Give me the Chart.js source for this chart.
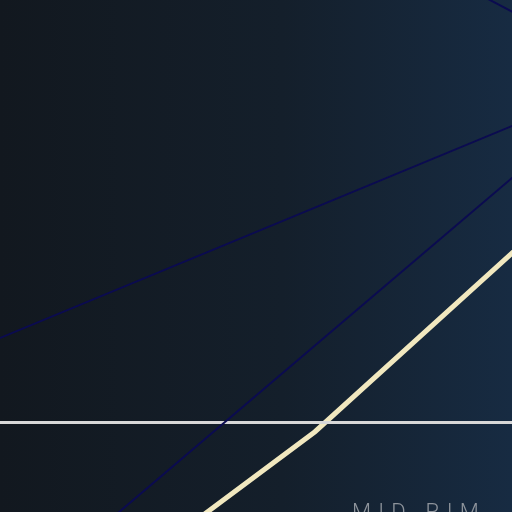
<!DOCTYPE html>
<html>
<head>
<meta charset="utf-8">
<script src="https://cdn.jsdelivr.net/npm/chart.js@4"></script>
<style>
  html, body { margin: 0; padding: 0; }
  body { width: 512px; height: 512px; overflow: hidden; position: relative;
         background: linear-gradient(to right, #12181f 0%, #141f2b 55%, #172b42 100%); }
  #wrap { position: absolute; left: 0; top: 0; width: 512px; height: 512px; }
  #label { position: absolute; left: 352px; top: 501px; font-family: Roboto, sans-serif;
           font-weight: 300; font-size: 22px; letter-spacing: 7.2px; color: #8d939b;
           white-space: nowrap; line-height: 1; }
</style>
</head>
<body>
<div id="wrap"><canvas id="c" width="512" height="512"></canvas></div>
<div id="label">MID RIM</div>
<script>
// Series (data units: x 0–100, y 0–100 visible window)
const rayAX = [94, 102];
const rayAY = [100.9, 96.65];
const rayBX = [-2, 102];
const rayBY = [33.15, 76.22];
const rayCX = [20, 102];
const rayCY = [-2.78, 66.93];
const pathX = [38, 61.52, 102];
const pathY = [-1.86, 15.68, 52.4];
const levelX = [-2, 102];
const levelY = [17.48, 17.48];

const pts = (xs, ys) => xs.map((x, i) => ({ x, y: ys[i] }));

const navy = '#0b0b50';
new Chart(document.getElementById('c'), {
  type: 'line',
  data: {
    datasets: [
      { data: pts(rayAX, rayAY), borderColor: navy, borderWidth: 2 },
      { data: pts(rayBX, rayBY), borderColor: navy, borderWidth: 2 },
      { data: pts(rayCX, rayCY), borderColor: navy, borderWidth: 2 },
      { data: pts(levelX, levelY), borderColor: '#d8d8d8', borderWidth: 3 },
      { data: pts(pathX, pathY), borderColor: '#f1e8bf', borderWidth: 5 }
    ]
  },
  options: {
    responsive: false,
    animation: false,
    devicePixelRatio: 1,
    layout: { padding: 0 },
    elements: { point: { radius: 0, hoverRadius: 0 }, line: { tension: 0 } },
    plugins: { legend: { display: false }, tooltip: { enabled: false }, title: { display: false } },
    scales: {
      x: { type: 'linear', min: 0, max: 100, display: false },
      y: { type: 'linear', min: 0, max: 100, display: false }
    }
  }
});
</script>
</body>
</html>
